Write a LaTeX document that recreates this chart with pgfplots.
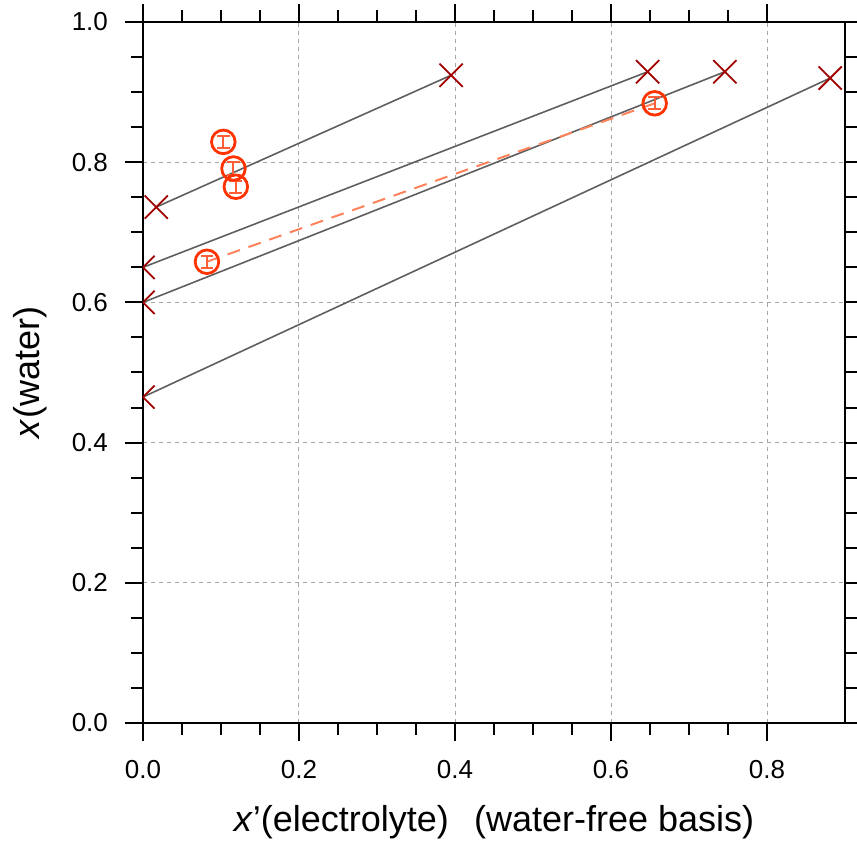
\documentclass[border=0pt]{standalone}
\usepackage{pgfplots}
\pgfplotsset{compat=1.18}
\usetikzlibrary{calc}
\usepackage{fontspec}
\setmainfont{Liberation Sans}
\definecolor{crossred}{RGB}{160,0,0}
\definecolor{circ}{RGB}{255,51,0}
\definecolor{errc}{RGB}{255,95,55}
\definecolor{dashc}{RGB}{255,130,90}
\definecolor{tie}{RGB}{95,95,95}
\begin{document}
\begin{tikzpicture}
\begin{axis}[
  scale only axis, width=351pt, height=350.5pt,
  xmin=0, xmax=0.9, ymin=0, ymax=1,
  xtick={0,0.2,0.4,0.6,0.8}, ytick={0,0.2,0.4,0.6,0.8,1.0},
  minor tick num=3,
  tick align=outside,
  major tick length=9pt, minor tick length=6pt,
  every tick/.style={black, line width=1pt},
  axis line style={line width=1pt},
  /pgf/number format/assume math mode=true,
  /pgf/number format/fixed, /pgf/number format/fixed zerofill,
  /pgf/number format/precision=1,
  tick label style={font=\fontsize{13}{15}\selectfont},
  xticklabel style={yshift=-6pt},
  yticklabel style={xshift=-5pt},
  grid=major,
  major grid style={black!35, dash pattern=on 2pt off 2pt, line width=0.5pt},
  xlabel={\textit{x}'(electrolyte)\hspace{0.7em}(water-free basis)},
  ylabel={\textit{x}(water)},
  every axis x label/.style={at={(axis description cs:0.5,-0.1412)}, anchor=center, font=\fontsize{18}{21}\selectfont},
  every axis y label/.style={at={(axis description cs:-0.161,0.5)}, rotate=90, anchor=center, font=\fontsize{18}{21}\selectfont},
]
% tie lines
\addplot[tie, line width=0.8pt] coordinates {(0.017,0.736) (0.395,0.924)};
\addplot[tie, line width=0.8pt] coordinates {(0,0.650) (0.647,0.929)};
\addplot[tie, line width=0.8pt] coordinates {(0,0.600) (0.746,0.929)};
\addplot[tie, line width=0.8pt] coordinates {(0,0.465) (0.881,0.920)};
% tie-line end points
\addplot[only marks, mark=x, mark size=8.2pt, crossred, line width=0.9pt, clip marker paths=true]
  coordinates {(0.017,0.736) (0.395,0.924) (0,0.650) (0.647,0.929)
               (0,0.600) (0.746,0.929) (0,0.465) (0.881,0.920)};
% experimental tie line
\addplot[dashc, line width=1pt, dash pattern=on 6.5pt off 4.5pt] coordinates {(0.082,0.658) (0.656,0.884)};
% experimental points with error bars
\addplot[only marks, mark=o, mark size=5.9pt, circ, line width=1.4pt,
  error bars/.cd, y dir=both, y explicit,
  error bar style={errc, line width=1pt},
  error mark options={errc, line width=1pt, mark size=3.2pt, rotate=90}]
  coordinates {(0.103,0.829) +- (0,0.0088)
               (0.116,0.791) +- (0,0.0088)
               (0.119,0.765) +- (0,0.0088)
               (0.082,0.658) +- (0,0.0088)
               (0.656,0.884) +- (0,0.0088)};
\end{axis}
\pgfresetboundingbox
\path[use as bounding box] ($(current axis.south west)+(-71.5pt,-61pt)$) rectangle ($(current axis.north east)+(6pt,11pt)$);
\end{tikzpicture}
\end{document}
